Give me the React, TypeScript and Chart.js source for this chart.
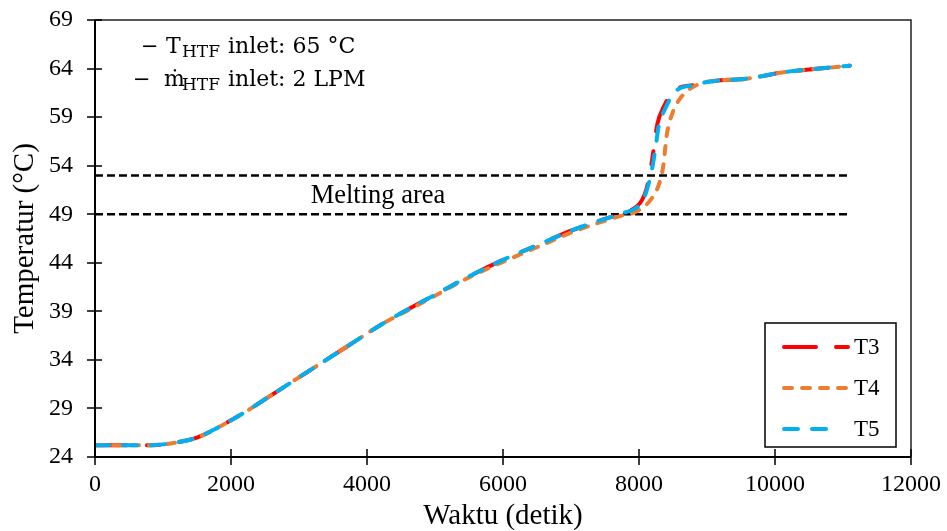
import React, { useEffect, useRef } from 'react';
import { Chart, registerables } from 'chart.js';
Chart.register(...registerables);

// ---- data ----
const t3Time = [0, 300, 700, 1000, 1200, 1500, 1800, 2200, 2600, 3000, 3400, 3800, 4200, 4600, 5000, 5500, 6000, 6500, 7000, 7400, 7800, 7950, 8040, 8110, 8170, 8220, 8270, 8360, 8510, 8800, 9200, 9500, 9800, 10100, 10500, 10800, 11100];
const t3Temp = [25.2, 25.2, 25.2, 25.3, 25.5, 26.0, 27.0, 28.6, 30.4, 32.2, 34.0, 35.8, 37.6, 39.2, 40.7, 42.6, 44.3, 45.8, 47.3, 48.3, 49.2, 49.7, 50.4, 51.6, 53.6, 55.9, 58.3, 60.0, 61.7, 62.3, 62.8, 62.9, 63.2, 63.6, 63.9, 64.1, 64.3];

const t4Time = [0, 300, 700, 1000, 1200, 1500, 1800, 2200, 2600, 3000, 3400, 3800, 4200, 4600, 5000, 5500, 6000, 6500, 7000, 7400, 7720, 7900, 8015, 8162, 8284, 8358, 8407, 8481, 8603, 8848, 9200, 9500, 9800, 10100, 10500, 10800, 11100];
const t4Temp = [25.2, 25.2, 25.2, 25.3, 25.5, 26.0, 27.0, 28.6, 30.4, 32.2, 34.0, 35.8, 37.6, 39.1, 40.6, 42.5, 44.1, 45.6, 47.1, 48.1, 48.8, 49.1, 49.5, 50.4, 51.9, 54.0, 57.1, 59.2, 60.9, 62.3, 62.8, 62.9, 63.2, 63.6, 63.9, 64.1, 64.3];

const t5Time = [0, 300, 700, 1000, 1200, 1500, 1800, 2200, 2600, 3000, 3400, 3800, 4200, 4600, 5000, 5500, 6000, 6500, 7000, 7400, 7800, 7950, 8050, 8120, 8190, 8240, 8290, 8380, 8530, 8800, 9200, 9500, 9800, 10100, 10500, 10800, 11100];
const t5Temp = [25.2, 25.2, 25.2, 25.3, 25.5, 26.0, 27.0, 28.6, 30.4, 32.2, 34.0, 35.8, 37.6, 39.2, 40.7, 42.6, 44.3, 45.8, 47.3, 48.3, 49.2, 49.6, 50.3, 51.6, 53.6, 55.7, 58.1, 59.8, 61.6, 62.3, 62.8, 62.9, 63.2, 63.6, 63.9, 64.1, 64.3];

const meltLow = 49;
const meltHigh = 53;
const meltSpan = [0, 11100];

const seriesLabels = ['T3', 'T4', 'T5'];
const yTickMin = 24;
const yTickMax = 69;
const yStep = 5;
const xTickMin = 0;
const xTickMax = 12000;
const xStep = 2000;

const annotLine1 = { pre: '−', sym: 'T', sub: 'HTF', post: 'inlet: 65 °C' };
const annotLine2 = { pre: '−', sym: 'ṁ', sub: 'HTF', post: 'inlet: 2 LPM' };
const meltLabel = 'Melting area';
const xTitle = 'Waktu (detik)';
const yTitle = 'Temperatur (°C)';

const SERIF = '"Liberation Serif", "Times New Roman", serif';
const MATH = '"DejaVu Serif", serif';

const zip = (xs: number[], ys: number[]) => xs.map((x, i) => ({ x, y: ys[i] }));

const styles = [
  { color: '#FF0000', dash: [32, 20, 13, 20], legendEnd: 848 },
  { color: '#ED7D31', dash: [8, 10], legendEnd: 848 },
  { color: '#00B0F0', dash: [14, 14], legendEnd: 832 },
];

const overlayPlugin = {
  id: 'overlay',
  afterDraw(chart: any) {
    const { ctx, chartArea: a, scales } = chart;
    const xs = scales.x, ys = scales.y;
    ctx.save();
    // frame top/right
    ctx.strokeStyle = '#222';
    ctx.lineWidth = 1.5;
    ctx.beginPath();
    ctx.moveTo(a.left, a.top);
    ctx.lineTo(a.right, a.top);
    ctx.lineTo(a.right, a.bottom);
    ctx.stroke();
    // axes
    ctx.strokeStyle = '#000';
    ctx.lineWidth = 2;
    ctx.beginPath();
    ctx.moveTo(a.left, a.top);
    ctx.lineTo(a.left, a.bottom);
    ctx.lineTo(a.right, a.bottom);
    ctx.stroke();
    // crossing ticks
    ctx.lineWidth = 1.5;
    ctx.beginPath();
    for (let v = yTickMin; v <= yTickMax; v += yStep) {
      const py = Math.round(ys.getPixelForValue(v));
      ctx.moveTo(a.left - 8, py);
      ctx.lineTo(a.left + 7, py);
    }
    for (let v = xTickMin; v <= xTickMax; v += xStep) {
      const px = Math.round(xs.getPixelForValue(v));
      ctx.moveTo(px, a.bottom - 8);
      ctx.lineTo(px, a.bottom + 8);
    }
    ctx.stroke();

    // annotation text
    ctx.fillStyle = '#000';
    ctx.textBaseline = 'alphabetic';
    ctx.textAlign = 'left';
    const drawLine = (line: any, xDash: number, xSym: number, y: number) => {
      ctx.font = `21px ${MATH}`;
      ctx.fillText(line.pre, xDash, y);
      ctx.font = `22px ${MATH}`;
      ctx.fillText(line.sym, xSym, y);
      ctx.font = `17px ${MATH}`;
      ctx.fillText(line.sub, 182, y + 4);
      ctx.font = `22px ${MATH}`;
      ctx.fillText(line.post, 228, y);
    };
    drawLine(annotLine1, 141, 166, 53);
    drawLine(annotLine2, 133, 164, 86);

    ctx.font = `26.5px ${SERIF}`;
    ctx.textAlign = 'center';
    ctx.fillText(meltLabel, 378, 203);

    // legend
    const bx = 765, by = 323, bw = 131, bh = 124;
    ctx.fillStyle = '#fff';
    ctx.fillRect(bx, by, bw, bh);
    ctx.strokeStyle = '#000';
    ctx.lineWidth = 1.5;
    ctx.strokeRect(bx, by, bw, bh);
    ctx.textAlign = 'left';
    ctx.textBaseline = 'middle';
    ctx.font = `23px ${SERIF}`;
    seriesLabels.forEach((lab, i) => {
      const yy = 347 + i * 41;
      ctx.strokeStyle = styles[i].color;
      ctx.lineWidth = 4;
      ctx.lineCap = 'round';
      ctx.setLineDash(styles[i].dash);
      ctx.beginPath();
      ctx.moveTo(784, yy);
      ctx.lineTo(styles[i].legendEnd, yy);
      ctx.stroke();
      ctx.setLineDash([]);
      ctx.fillStyle = '#000';
      ctx.fillText(lab, 854, yy + 1);
    });
    ctx.restore();
  },
};

export default function App() {
  const ref = useRef<HTMLCanvasElement | null>(null);
  useEffect(() => {
    document.body.style.margin = '0';
    const canvas = ref.current!;
    const seriesData = [zip(t3Time, t3Temp), zip(t4Time, t4Temp), zip(t5Time, t5Temp)];
    const datasets: any[] = seriesData.map((d, i) => ({
      label: seriesLabels[i],
      data: d,
      borderColor: styles[i].color,
      backgroundColor: styles[i].color,
      borderWidth: 4,
      borderDash: styles[i].dash,
      borderCapStyle: 'round',
      pointRadius: 0,
      cubicInterpolationMode: 'monotone',
      fill: false,
      order: 3 - i,
    }));
    [meltLow, meltHigh].forEach((v, k) => {
      datasets.push({
        label: 'melt' + k,
        data: meltSpan.map((x) => ({ x, y: v })),
        borderColor: '#000',
        borderWidth: 2.5,
        borderDash: [8, 4],
        pointRadius: 0,
        fill: false,
        order: 10,
      });
    });
    const chart = new Chart(canvas, {
      type: 'line',
      data: { datasets },
      options: {
        animation: false,
        responsive: false,
        maintainAspectRatio: false,
        layout: { padding: { left: 0, right: 36, top: 20, bottom: 0 } },
        plugins: { legend: { display: false }, tooltip: { enabled: false } },
        scales: {
          x: {
            type: 'linear',
            min: xTickMin,
            max: xTickMax,
            grid: { display: false, drawTicks: false },
            border: { display: false },
            ticks: { stepSize: xStep, color: '#000', font: { family: SERIF, size: 24 }, padding: 13, maxRotation: 0, callback: (v: any) => String(v) },
            title: { display: true, text: xTitle, color: '#000', font: { family: SERIF, size: 29 }, padding: { top: 0, bottom: -3 } },
            afterFit: (s: any) => { s.height = 74; s.paddingLeft = 0; s.paddingRight = 0; },
          },
          y: {
            type: 'linear',
            min: yTickMin,
            max: yTickMax,
            grid: { display: false, drawTicks: false },
            border: { display: false },
            ticks: { stepSize: yStep, color: '#000', font: { family: SERIF, size: 24 }, padding: 22, callback: (v: any) => String(v) },
            title: { display: true, text: yTitle, color: '#000', font: { family: SERIF, size: 29 }, padding: { top: 8, bottom: 0 } },
            afterFit: (s: any) => { s.width = 95; s.paddingTop = 0; s.paddingBottom = 0; },
          },
        },
      },
      plugins: [overlayPlugin],
    });
    return () => chart.destroy();
  }, []);
  return (
    <div style={{ width: 947, height: 531 }}>
      <canvas ref={ref} width={947} height={531} style={{ display: 'block' }} />
    </div>
  );
}
